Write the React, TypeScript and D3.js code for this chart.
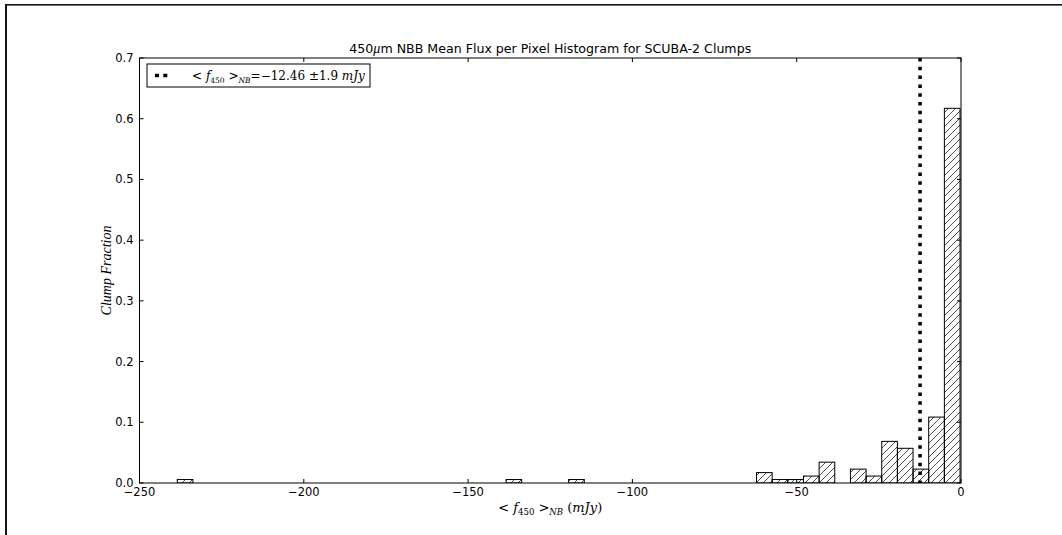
import React from "react";
import * as d3 from "d3";

// Histogram bins (left edge in mJy) and fraction of clumps in each bin
const binLefts = [
  -238.5, -138.46, -119.4, -62.23, -57.47, -52.7, -47.94, -43.18,
  -33.65, -28.88, -24.12, -19.36, -14.59, -9.83, -5.06,
];
const binFractions = [
  0.00571, 0.00571, 0.00571, 0.01714, 0.00571, 0.00571, 0.01143, 0.03429,
  0.02286, 0.01143, 0.06857, 0.05714, 0.02286, 0.10857, 0.61714,
];
const binWidth = 4.764;

const meanFlux = -12.46;

const xTicks = [-250, -200, -150, -100, -50, 0];
const yTicks = [0.0, 0.1, 0.2, 0.3, 0.4, 0.5, 0.6, 0.7];

const W = 1062;
const H = 535;
const plot = { left: 139.5, right: 961, top: 58, bottom: 483 };

const fmtX = (v: number) => (v < 0 ? "\u2212" + Math.abs(v) : String(v));
const fmtY = d3.format(".1f");

export default function App() {
  const x = d3.scaleLinear().domain([-250, 0]).range([plot.left, plot.right]);
  const y = d3.scaleLinear().domain([0, 0.7]).range([plot.bottom, plot.top]);
  const sans = "'DejaVu Sans', sans-serif";
  const serif = "'DejaVu Serif', 'Liberation Serif', serif";
  const tickLen = 4;

  return (
    <div style={{ position: "absolute", left: 0, top: 0 }}>
      <svg width={W} height={H} style={{ display: "block", background: "#fff" }}>
        <defs>
          <pattern id="hatch" patternUnits="userSpaceOnUse" width={7} height={7}>
            <path
              d="M0,7 L7,0 M-1,1 L1,-1 M6,8 L8,6"
              stroke="#222"
              strokeWidth={0.8}
            />
          </pattern>
          <clipPath id="plotClip">
            <rect
              x={plot.left}
              y={plot.top}
              width={plot.right - plot.left}
              height={plot.bottom - plot.top}
            />
          </clipPath>
        </defs>

        {/* outer frame */}
        <rect x={5} y={4} width={W - 5} height={1.6} fill="#151515" />
        <rect x={5} y={4} width={2} height={H - 4} fill="#151515" />

        {/* title */}
        <text
          x={(plot.left + plot.right) / 2}
          y={53}
          textAnchor="middle"
          fontFamily={sans}
          fontSize={12.6}
          fill="#000"
        >
          450<tspan fontFamily="'Liberation Serif', serif" fontStyle="italic" fontSize={14}>μ</tspan>m NBB Mean Flux per Pixel Histogram for SCUBA-2 Clumps
        </text>

        {/* bars */}
        <g clipPath="url(#plotClip)">
          {binLefts.map((b, i) => {
            const x0 = x(b);
            const x1 = x(b + binWidth);
            const yt = y(binFractions[i]);
            return (
              <rect
                key={i}
                x={x0}
                y={yt}
                width={x1 - x0}
                height={plot.bottom - yt}
                fill="url(#hatch)"
                stroke="#000"
                strokeWidth={1}
              />
            );
          })}
          {/* mean flux marker */}
          <line
            x1={x(meanFlux)}
            x2={x(meanFlux)}
            y1={plot.top}
            y2={plot.bottom}
            stroke="#000"
            strokeWidth={3.5}
            strokeDasharray="3.5 5.3"
          />
        </g>

        {/* axes frame */}
        <rect
          x={plot.left}
          y={plot.top}
          width={plot.right - plot.left}
          height={plot.bottom - plot.top}
          fill="none"
          stroke="#000"
          strokeWidth={1}
        />

        {/* x ticks */}
        {xTicks.map((t) => (
          <g key={"x" + t}>
            <line x1={x(t)} x2={x(t)} y1={plot.bottom} y2={plot.bottom - tickLen} stroke="#000" />
            <line x1={x(t)} x2={x(t)} y1={plot.top} y2={plot.top + tickLen} stroke="#000" />
            <text
              x={x(t)}
              y={plot.bottom + 13}
              textAnchor="middle"
              fontFamily={sans}
              fontSize={11.5}
              fill="#000"
            >
              {fmtX(t)}
            </text>
          </g>
        ))}

        {/* y ticks */}
        {yTicks.map((t) => (
          <g key={"y" + t}>
            <line x1={plot.left} x2={plot.left + tickLen} y1={y(t)} y2={y(t)} stroke="#000" />
            <line x1={plot.right} x2={plot.right - tickLen} y1={y(t)} y2={y(t)} stroke="#000" />
            <text
              x={plot.left - 6}
              y={y(t) + 4}
              textAnchor="end"
              fontFamily={sans}
              fontSize={11.5}
              fill="#000"
            >
              {fmtY(t)}
            </text>
          </g>
        ))}

        {/* x label */}
        <text
          x={(plot.left + plot.right) / 2}
          y={512}
          textAnchor="middle"
          fontFamily={serif}
          fontSize={13}
          fill="#000"
        >
          {"< "}
          <tspan fontStyle="italic">f</tspan>
          <tspan fontSize={8.5} dy={3}>450</tspan>
          <tspan dy={-3}>{" >"}</tspan>
          <tspan fontStyle="italic" fontSize={8.5} dy={3}>NB</tspan>
          <tspan dy={-3}>{" ("}</tspan>
          <tspan fontStyle="italic">mJy</tspan>
          <tspan>)</tspan>
        </text>

        {/* y label */}
        <text
          transform={`translate(111,${(plot.top + plot.bottom) / 2}) rotate(-90)`}
          textAnchor="middle"
          fontFamily="'Liberation Serif', serif"
          fontStyle="italic"
          fontSize={14}
          fill="#000"
        >
          Clump Fraction
        </text>

        {/* legend */}
        <rect x={147} y={64} width={223} height={23} fill="#fff" stroke="#000" strokeWidth={1} />
        <line
          x1={155}
          x2={167.5}
          y1={75.5}
          y2={75.5}
          stroke="#000"
          strokeWidth={3.5}
          strokeDasharray="4 4.3"
        />
        <text x={192} y={79.5} fontFamily={serif} fontSize={12} fill="#000">
          {"< "}
          <tspan fontStyle="italic">f</tspan>
          <tspan fontSize={7.5} dy={3}>450</tspan>
          <tspan dy={-3}>{" >"}</tspan>
          <tspan fontStyle="italic" fontSize={7.5} dy={3}>NB</tspan>
          <tspan dy={-3}>{"=\u221212.46 \u00b11.9 "}</tspan>
          <tspan fontStyle="italic">mJy</tspan>
        </text>
      </svg>
    </div>
  );
}
